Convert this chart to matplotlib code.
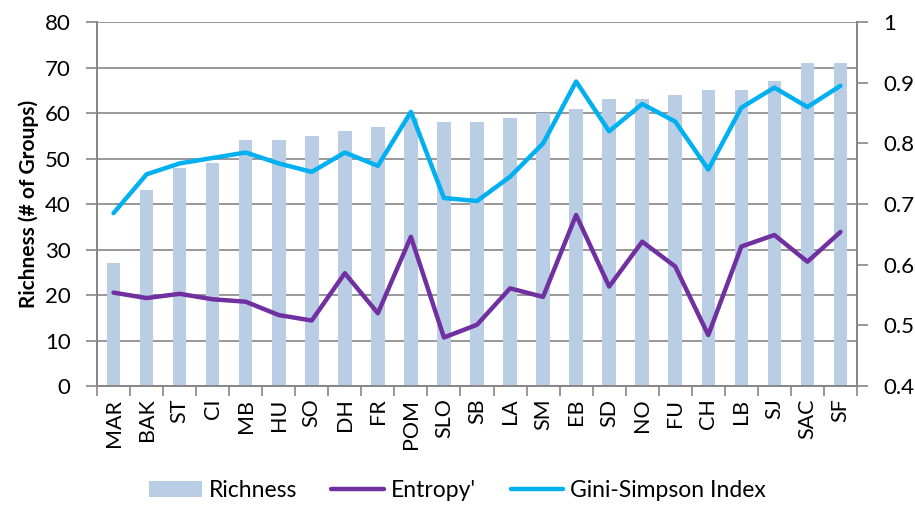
import numpy as np
import matplotlib.pyplot as plt
from matplotlib.ticker import MultipleLocator, FixedLocator

plt.rcParams['font.family'] = ['Lato', 'DejaVu Sans']

sites = ['MAR', 'BAK', 'ST', 'CI', 'MB', 'HU', 'SO', 'DH', 'FR', 'POM', 'SLO', 'SB',
         'LA', 'SM', 'EB', 'SD', 'NO', 'FU', 'CH', 'LB', 'SJ', 'SAC', 'SF']
richness = [27, 43, 48, 49, 54, 54, 55, 56, 57, 59, 58, 58,
            59, 60, 61, 63, 63, 64, 65, 65, 67, 71, 71]
entropy = [0.554, 0.545, 0.552, 0.543, 0.539, 0.517, 0.508, 0.586, 0.520, 0.646, 0.480, 0.501,
           0.561, 0.547, 0.682, 0.564, 0.638, 0.597, 0.484, 0.630, 0.649, 0.605, 0.654]
gini = [0.685, 0.749, 0.767, 0.776, 0.785, 0.767, 0.753, 0.785, 0.763, 0.852, 0.710, 0.705,
        0.745, 0.800, 0.902, 0.820, 0.865, 0.836, 0.757, 0.859, 0.892, 0.860, 0.895]

grid_col = '#868686'
x = np.arange(len(sites))

fig = plt.figure(figsize=(9.15, 5.14), dpi=100)
ax = fig.add_axes([0.106, 0.249, 0.8306, 0.708])
ax2 = ax.twinx()

ax.bar(x, richness, width=0.41, color='#B9CDE5', label='Richness', zorder=2)
ax.set_ylim(0, 80)
ax.set_xlim(-0.5, len(sites) - 0.5)
ax.yaxis.set_major_locator(MultipleLocator(10))
ax.grid(axis='y', color=grid_col, lw=1.2, zorder=0)
ax.set_axisbelow(True)
ax.set_xticks(x)
ax.set_xticklabels(sites, rotation=90, fontsize=15.5)
ax.xaxis.set_minor_locator(FixedLocator(np.arange(-0.5, len(sites), 1)))
ax.tick_params(axis='x', which='major', length=0, pad=9)
ax.tick_params(axis='x', which='minor', length=7, color=grid_col, width=1.2)
ax.tick_params(axis='y', labelsize=16, length=8, color=grid_col, width=1.2, pad=11)
ax.set_ylabel('Richness (# of Groups)', fontsize=15, fontweight='bold', labelpad=4)

ax2.plot(x, entropy, color='#7030A0', lw=3.2, label="Entropy'", solid_capstyle='round', zorder=3)
ax2.plot(x, gini, color='#00B0F0', lw=3.2, label='Gini-Simpson Index', solid_capstyle='round', zorder=3)
ax2.set_ylim(0.4, 1.0)
ax2.set_yticks([0.4, 0.5, 0.6, 0.7, 0.8, 0.9, 1.0])
ax2.set_yticklabels(['0.4', '0.5', '0.6', '0.7', '0.8', '0.9', '1'])
ax2.tick_params(axis='y', labelsize=16, length=8, color=grid_col, width=1.2, pad=11)

for a in (ax, ax2):
    a.spines['top'].set_visible(False)
    for s in ('left', 'right', 'bottom'):
        a.spines[s].set_color(grid_col)
        a.spines[s].set_linewidth(1.2)

h1, l1 = ax.get_legend_handles_labels()
h2, l2 = ax2.get_legend_handles_labels()
fig.legend(h1 + h2, l1 + l2, loc='lower center', bbox_to_anchor=(0.5, -0.015), ncol=3,
           frameon=False, fontsize=16.5, handlelength=2.3, handleheight=0.65,
           columnspacing=1.5, handletextpad=0.3)

fig.savefig('out.png', dpi=100)
